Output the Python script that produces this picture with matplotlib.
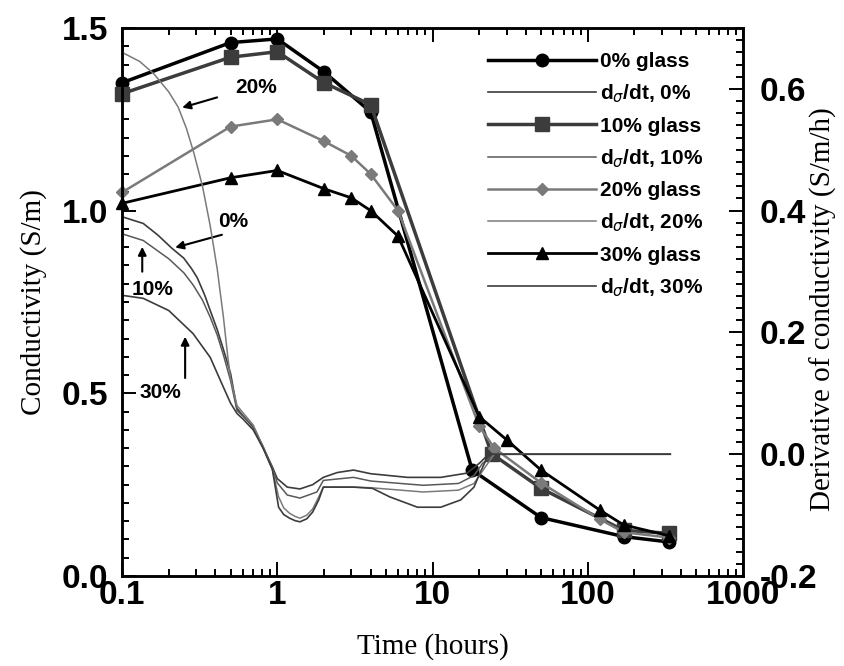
import matplotlib
matplotlib.use("Agg")
import matplotlib.pyplot as plt
from matplotlib.ticker import MultipleLocator, LogLocator, NullFormatter, FixedLocator, FixedFormatter

# conductivity vs time (left axis, S/m)
t_g0 = [0.1, 0.5, 1, 2, 4, 18, 50, 170, 336]
g0 = [1.35, 1.46, 1.47, 1.38, 1.27, 0.29, 0.16, 0.108, 0.093]
t_g10 = [0.1, 0.5, 1, 2, 4, 24, 50, 170, 336]
g10 = [1.32, 1.42, 1.435, 1.35, 1.29, 0.335, 0.24, 0.125, 0.117]
t_g20 = [0.1, 0.5, 1, 2, 3, 4, 6, 20, 25, 50, 120, 170, 336]
g20 = [1.05, 1.23, 1.25, 1.19, 1.15, 1.10, 1.00, 0.41, 0.35, 0.255, 0.155, 0.12, 0.105]
t_g30 = [0.1, 0.5, 1, 2, 3, 4, 6, 20, 30, 50, 120, 170, 336]
g30 = [1.02, 1.09, 1.11, 1.06, 1.035, 1.0, 0.93, 0.436, 0.373, 0.29, 0.18, 0.14, 0.11]

# derivative of conductivity (right axis, S/m/h)
t_d0 = [0.1, 0.137, 0.17, 0.21, 0.25, 0.28, 0.305, 0.34, 0.37, 0.41, 0.45, 0.5, 0.55, 0.7, 0.81, 0.93, 1.0, 1.16,
        1.4, 1.69, 1.98, 2.44, 3.1, 4.0, 6.9, 11.3, 16.7, 20, 23, 30, 100, 340]
d0 = [0.39, 0.379, 0.36, 0.338, 0.322, 0.305, 0.29, 0.262, 0.236, 0.205, 0.172, 0.133, 0.075, 0.044, 0.011, -0.021,
      -0.04, -0.054, -0.057, -0.05, -0.038, -0.03, -0.026, -0.032, -0.038, -0.038, -0.031, -0.015, 0.0, 0.0, 0.0, 0.0]
t_d10 = [0.1, 0.137, 0.2, 0.25, 0.287, 0.33, 0.37, 0.41, 0.45, 0.5, 0.55, 0.7, 0.81, 0.93, 1.0, 1.16, 1.4, 1.8,
         1.98, 3.1, 4.0, 8.7, 14.7, 18.5, 21, 25, 340]
d10 = [0.362, 0.351, 0.321, 0.298, 0.278, 0.253, 0.225, 0.196, 0.163, 0.121, 0.072, 0.046, 0.013, -0.022, -0.047,
       -0.067, -0.072, -0.062, -0.043, -0.038, -0.044, -0.051, -0.048, -0.035, -0.015, 0.0, 0.0]
t_d20 = [0.1, 0.13, 0.16, 0.2, 0.23, 0.26, 0.29, 0.33, 0.37, 0.41, 0.45, 0.48, 0.5, 0.55, 0.7, 0.81,
         0.93, 1.02, 1.1, 1.2, 1.3, 1.4, 1.55, 1.69, 1.85, 1.98, 3.1, 4.0, 8.7, 14.7, 18.5, 22, 25, 300]
d20 = [0.66, 0.645, 0.625, 0.595, 0.57, 0.535, 0.495, 0.44, 0.375, 0.305, 0.225, 0.16, 0.125, 0.08, 0.048, 0.012,
       -0.025, -0.07, -0.088, -0.097, -0.102, -0.105, -0.1, -0.09, -0.07, -0.054, -0.054, -0.055, -0.062, -0.059,
       -0.048, -0.02, 0.0, 0.0]
t_d30 = [0.1, 0.137, 0.2, 0.287, 0.37, 0.45, 0.5, 0.55, 0.6, 0.7, 0.81, 0.93, 1.02, 1.1, 1.2, 1.3, 1.4, 1.55, 1.69,
         1.85, 1.98, 3.1, 4.1, 5.3, 8.0, 11.3, 15.2, 18.5, 20.2, 23, 340]
d30 = [0.261, 0.256, 0.236, 0.198, 0.159, 0.11, 0.084, 0.067, 0.058, 0.04, 0.01, -0.025, -0.087, -0.099, -0.105,
       -0.109, -0.111, -0.106, -0.095, -0.075, -0.054, -0.054, -0.056, -0.07, -0.087, -0.087, -0.075, -0.054, -0.031,
       0.0, 0.0]

x_ticks = [0.1, 1, 10, 100, 1000]
x_labels = ['0.1', '1', '10', '100', '1000']

tickfont = {'family': 'Liberation Sans', 'weight': 'bold', 'size': 24}
labfont = {'family': 'Liberation Serif', 'size': 21}

fig = plt.figure(figsize=(8.45, 6.66), dpi=100)
ax = fig.add_axes([0.1444, 0.1351, 0.7349, 0.8229])
ax2 = ax.twinx()

h_g0, = ax.plot(t_g0, g0, '-o', color='black', lw=2.5, ms=9, label='0% glass', clip_on=False)
h_g10, = ax.plot(t_g10, g10, '-s', color='#3c3c3c', lw=2.5, ms=9.5, label='10% glass', clip_on=False)
h_g20, = ax.plot(t_g20, g20, '-D', color='#7a7a7a', lw=1.8, ms=6, label='20% glass', clip_on=False)
h_g30, = ax.plot(t_g30, g30, '-^', color='black', lw=2.0, ms=8, label='30% glass', clip_on=False)

h_d0, = ax2.plot(t_d0, d0, '-', color='#3c3c3c', lw=1.2, label=r'd$_\sigma$/dt, 0%')
h_d10, = ax2.plot(t_d10, d10, '-', color='#595959', lw=1.1, label=r'd$_\sigma$/dt, 10%')
h_d20, = ax2.plot(t_d20, d20, '-', color='#7a7a7a', lw=1.1, label=r'd$_\sigma$/dt, 20%')
h_d30, = ax2.plot(t_d30, d30, '-', color='#3c3c3c', lw=1.2, label=r'd$_\sigma$/dt, 30%')

ax.set_xscale('log')
ax.set_xlim(0.1, 1000)
ax.set_ylim(0, 1.5)
ax2.set_ylim(-0.2, 0.7)

ax.xaxis.set_major_locator(FixedLocator(x_ticks))
ax.xaxis.set_major_formatter(FixedFormatter(x_labels))
ax.xaxis.set_minor_locator(LogLocator(base=10, subs=range(2, 10), numticks=20))
ax.xaxis.set_minor_formatter(NullFormatter())
ax.yaxis.set_major_locator(MultipleLocator(0.5))
ax.yaxis.set_minor_locator(MultipleLocator(0.05))
ax.yaxis.set_major_formatter(plt.FuncFormatter(lambda v, p: f'{v:.1f}'))
ax2.yaxis.set_major_locator(MultipleLocator(0.2))
ax2.yaxis.set_minor_locator(MultipleLocator(0.02))
ax2.yaxis.set_major_formatter(plt.FuncFormatter(lambda v, p: f'{v:.1f}'))

ax.tick_params(which='both', direction='in', top=True, right=False, width=1.4)
ax.tick_params(axis='y', which='major', length=10, pad=10)
ax.tick_params(axis='x', which='major', length=10, pad=3)
ax.tick_params(which='minor', length=5)
ax2.tick_params(which='both', direction='in', width=1.4)
ax2.tick_params(which='major', length=10, pad=12)
ax2.tick_params(which='minor', length=5)
for lab in ax.get_xticklabels() + ax.get_yticklabels() + ax2.get_yticklabels():
    lab.set_fontproperties(matplotlib.font_manager.FontProperties(**tickfont))
for sp in list(ax.spines.values()) + list(ax2.spines.values()):
    sp.set_linewidth(1.8)

ax.set_xlabel('Time (hours)', fontdict=labfont, labelpad=16)
ax.set_ylabel('Conductivity (S/m)', fontdict=labfont)
ax2.set_ylabel('Derivative of conductivity (S/m/h)', fontdict=labfont)
ax.yaxis.set_label_coords(-0.12, 0.5)
ax2.yaxis.set_label_coords(1.108, 0.487)

# curve annotations
ann = dict(fontsize=15, fontweight='bold', family='Liberation Sans', ha='center', va='center')
arr = dict(arrowstyle='-|>', color='black', lw=1.5, mutation_scale=12, shrinkA=0, shrinkB=0)
ax.text(0.73, 1.337, '20%', **ann)
ax.annotate('', xy=(0.244, 1.282), xytext=(0.41, 1.31), arrowprops=arr)
ax.text(0.52, 0.97, '0%', **ann)
ax.annotate('', xy=(0.22, 0.899), xytext=(0.44, 0.934), arrowprops=arr)
ax.text(0.158, 0.784, '10%', **ann)
ax.annotate('', xy=(0.135, 0.901), xytext=(0.135, 0.833), arrowprops=arr)
ax.text(0.176, 0.501, '30%', **ann)
ax.annotate('', xy=(0.255, 0.655), xytext=(0.255, 0.542), arrowprops=arr)

handles = [h_g0, h_d0, h_g10, h_d10, h_g20, h_d20, h_g30, h_d30]
leg = ax2.legend(handles=handles, loc='upper left', bbox_to_anchor=(0.559, 0.99), frameon=False,
                 handlelength=5.2, handletextpad=0.2, labelspacing=0.55, numpoints=1,
                 prop={'family': 'Liberation Sans', 'weight': 'bold', 'size': 15})

fig.savefig('out.png', dpi=100)
